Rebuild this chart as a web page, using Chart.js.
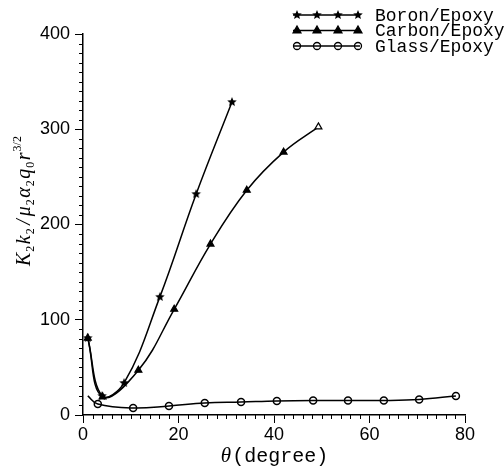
<!DOCTYPE html>
<html>
<head>
<meta charset="utf-8">
<script src="https://cdn.jsdelivr.net/npm/chart.js@4/dist/chart.umd.min.js"></script>
<style>
  html, body { margin: 0; padding: 0; background: #fff; }
</style>
</head>
<body>
<canvas id="graphKk" width="504" height="469"></canvas>
<script>
// values (theta in degrees, K2k2/mu2 a2 q0 r^3/2)
const thetaBoron = [1.0, 4.0, 8.6, 16.1, 23.7, 31.2];
const kBoron = [80.8, 20, 33.6, 124, 232, 328.6];

const thetaCarbon = [1.0, 4.1, 11.6, 19.1, 26.7, 34.3, 42.0, 49.3];
const kCarbon = [80.8, 19, 47, 111, 179.5, 236, 276, 302.5];

const thetaGlass = [1.0, 3.1, 10.5, 18.0, 25.5, 33.1, 40.6, 48.2, 55.5, 63.0, 70.4, 78.1];
const kGlass = [20, 11.5, 7.3, 9.4, 12.6, 13.6, 14.7, 15.2, 15.2, 15.2, 16.3, 20];

const seriesLabels = ['Boron/Epoxy', 'Carbon/Epoxy', 'Glass/Epoxy'];
const xTicks = [0, 20, 40, 60, 80];
const yTicks = [0, 100, 200, 300, 400];

function toPoints(xs, ys) {
  return xs.map((x, i) => ({ x: x, y: ys[i] }));
}

// filled five point star used as marker
function makeStar(r) {
  const c = document.createElement('canvas');
  const s = Math.ceil(r * 2 + 2);
  c.width = s; c.height = s;
  const g = c.getContext('2d');
  g.fillStyle = '#000';
  g.beginPath();
  for (let i = 0; i < 10; i++) {
    const a = -Math.PI / 2 + i * Math.PI / 5;
    const rr = i % 2 ? r * 0.45 : r;
    g.lineTo(s / 2 + rr * Math.cos(a), s / 2 + rr * Math.sin(a));
  }
  g.closePath();
  g.fill();
  return c;
}
const star = makeStar(5);

const glassRadius = thetaGlass.map((t, i) => i === 0 ? 0 : 3.5);
const carbonFill = thetaCarbon.map((t, i) => i === thetaCarbon.length - 1 ? '#fff' : '#000');

const decor = {
  id: 'decor',
  afterDraw(chart) {
    const ctx = chart.ctx;
    const xs = chart.scales.x, ys = chart.scales.y;
    ctx.save();
    ctx.strokeStyle = '#000';
    ctx.fillStyle = '#000';
    ctx.lineWidth = 1;

    // minor ticks
    for (let v = 2; v < 80; v += 2) {
      if (v % 20 === 0) continue;
      const px = Math.round(xs.getPixelForValue(v)) + 0.5;
      ctx.beginPath(); ctx.moveTo(px, ys.bottom); ctx.lineTo(px, ys.bottom + 4); ctx.stroke();
    }
    for (let v = 10; v < 400; v += 10) {
      if (v % 100 === 0) continue;
      const py = Math.round(ys.getPixelForValue(v)) + 0.5;
      ctx.beginPath(); ctx.moveTo(xs.left, py); ctx.lineTo(xs.left - 4, py); ctx.stroke();
    }

    // x title
    ctx.textBaseline = 'alphabetic';
    ctx.textAlign = 'left';
    ctx.font = 'italic 21px "Liberation Serif"';
    const thW = ctx.measureText('\u03b8').width;
    ctx.font = '20px "Liberation Mono"';
    const dW = ctx.measureText('(degree)').width;
    const cx = (xs.left + xs.right) / 2;
    let tx = cx - (thW + dW) / 2;
    ctx.font = 'italic 21px "Liberation Serif"';
    ctx.fillText('\u03b8', tx, 462);
    ctx.font = '20px "Liberation Mono"';
    ctx.fillText('(degree)', tx + thW + 1, 462);

    // y title with sub/superscripts
    const parts = [
      ['K', 'm'], ['2', 'sub'], ['k', 'm'], ['2', 'sub'], ['/', 'm'],
      ['\u03bc', 'm'], ['2', 'sub'], ['\u03b1', 'm'], ['2', 'sub'],
      ['q', 'm'], ['0', 'sub'], ['r', 'm'], ['3/2', 'sup']
    ];
    const fonts = {
      m: 'italic 20px "Liberation Serif"',
      sub: '12px "Liberation Serif"',
      sup: '12px "Liberation Serif"'
    };
    const shift = { m: 0, sub: 4, sup: -9 };
    const gap = { K: 1, k: 1, '/': 3, '\u03bc': 1, '\u03b1': 1, q: 1, r: 1 };
    ctx.save();
    ctx.translate(30, 266);
    ctx.rotate(-Math.PI / 2);
    let px = 0;
    parts.forEach(([txt, kind]) => {
      ctx.font = fonts[kind];
      if (txt === '/') px += 2;
      ctx.fillText(txt, px, shift[kind]);
      px += ctx.measureText(txt).width + (kind === 'm' ? gap[txt] : 1.5);
    });
    ctx.restore();

    // legend
    const styles = [
      { pointStyle: star, radius: 5, fill: '#000' },
      { pointStyle: 'triangle', radius: 4.5, fill: '#000' },
      { pointStyle: 'circle', radius: 3.5, fill: 'rgba(0,0,0,0)' }
    ];
    chart.data.datasets.forEach((ds, i) => {
      const y = 15 + i * 15.5;
      ctx.lineWidth = 1.5;
      ctx.strokeStyle = '#000';
      ctx.beginPath(); ctx.moveTo(293, y); ctx.lineTo(360, y); ctx.stroke();
      [297, 317, 338, 358].forEach(mx => {
        ctx.fillStyle = styles[i].fill;
        ctx.lineWidth = 1.3;
        Chart.helpers.drawPoint(ctx, {
          pointStyle: styles[i].pointStyle, radius: styles[i].radius,
          rotation: 0, borderWidth: 1.3
        }, mx, y);
      });
      ctx.fillStyle = '#000';
      ctx.font = '18px "Liberation Mono"';
      ctx.textBaseline = 'middle';
      ctx.fillText(ds.label, 375, y + 1);
    });
    ctx.restore();
  }
};

const ctx = document.getElementById('graphKk');
const chartKk = new Chart(ctx, {
  type: 'line',
  data: {
    datasets: [{
      label: seriesLabels[0],
      data: toPoints(thetaBoron, kBoron),
      borderColor: '#000',
      borderWidth: 1.5,
      pointStyle: star,
      pointRadius: 5,
      tension: 0.4,
      fill: false
    }, {
      label: seriesLabels[1],
      data: toPoints(thetaCarbon, kCarbon),
      borderColor: '#000',
      borderWidth: 1.5,
      pointStyle: 'triangle',
      pointRadius: 4,
      pointBackgroundColor: carbonFill,
      pointBorderColor: '#000',
      pointBorderWidth: 1.2,
      tension: 0.4,
      fill: false
    }, {
      label: seriesLabels[2],
      data: toPoints(thetaGlass, kGlass),
      borderColor: '#000',
      borderWidth: 1.5,
      pointStyle: 'circle',
      pointRadius: glassRadius,
      pointBackgroundColor: 'rgba(0,0,0,0)',
      pointBorderColor: '#000',
      pointBorderWidth: 1.5,
      tension: 0.4,
      fill: false
    }]
  },
  options: {
    responsive: false,
    animation: false,
    events: [],
    layout: { padding: { left: 0, top: 34, right: 39, bottom: 0 } },
    plugins: { legend: { display: false }, tooltip: { enabled: false } },
    scales: {
      x: {
        type: 'linear',
        min: 0, max: 80,
        afterFit: s => { s.height = 54; },
        afterBuildTicks: s => { s.ticks = xTicks.map(v => ({ value: v })); },
        grid: { drawOnChartArea: false, drawTicks: true, tickLength: 8, color: '#000', lineWidth: 1 },
        border: { display: true, color: '#000', width: 1.5 },
        ticks: { color: '#000', padding: 1, maxRotation: 0, font: { family: '"Liberation Sans"', size: 18 } }
      },
      y: {
        min: 0, max: 400,
        afterFit: s => { s.width = 83; },
        afterBuildTicks: s => { s.ticks = yTicks.map(v => ({ value: v })); },
        grid: { drawOnChartArea: false, drawTicks: true, tickLength: 8, color: '#000', lineWidth: 1 },
        border: { display: true, color: '#000', width: 1.5 },
        ticks: { color: '#000', padding: 5, font: { family: '"Liberation Sans"', size: 18 } }
      }
    }
  },
  plugins: [decor]
});
</script>
</body>
</html>
